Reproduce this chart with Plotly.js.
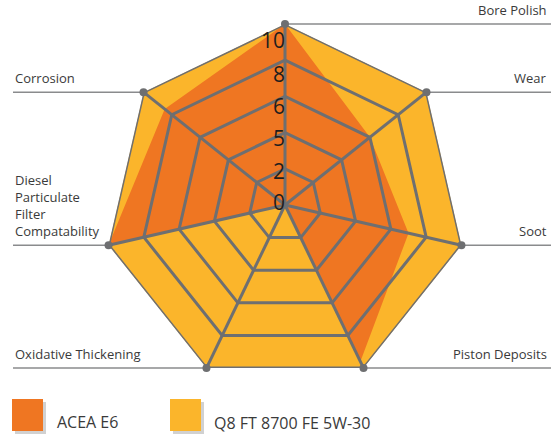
<!DOCTYPE html>
<html><head><meta charset="utf-8">
<script src="https://cdn.plot.ly/plotly-3.0.1.min.js"></script>
<style>html,body{margin:0;padding:0;background:#fff}#chart{width:551px;height:434px}</style>
</head><body><div id="chart"></div>
<script>
// ---- data ----
const categories = ['Bore Polish','Wear','Soot','Piston Deposits','Oxidative Thickening','Diesel Particulate Filter Compatability','Corrosion'];
const categoryLabels = ['Bore Polish','Wear','Soot','Piston Deposits','Oxidative Thickening','Diesel<br>Particulate<br>Filter<br>Compatability','Corrosion'];
const seriesNames = ['ACEA E6','Q8 FT 8700 FE 5W-30'];
const aceaE6 = [10, 6, 7, 9.6, 0, 10, 8.5];
const q8 = [10, 10, 10, 10, 10, 10, 10];
const gridLevels = [2, 4, 6, 8, 10];
const tickText = ['0','2','5','6','8','10'];
const tickTextR = [0.02, 1.75, 3.55, 5.3, 7.1, 8.95];

// ---- styles ----
const W = 551, H = 434;
const cx = 285, cy = 205, R = 181;
const orange = '#EF7622', yellow = '#FBB52B', gridCol = '#6E6F71', textCol = '#3A3A3A';
const font = 'Open Sans, Noto Sans, sans-serif';

const close = a => a.concat([a[0]]);
const thetaC = close(categories);

const traces = [];
traces.push({type:'scatterpolar', r: close(q8), theta: thetaC, fill:'toself', fillcolor: yellow,
  mode:'lines', line:{width:0, color: yellow}, name: seriesNames[1], hoverinfo:'skip'});
traces.push({type:'scatterpolar', r: close(aceaE6), theta: thetaC, fill:'toself', fillcolor: orange,
  mode:'lines', line:{width:0, color: orange}, name: seriesNames[0], hoverinfo:'skip'});
gridLevels.forEach(v => {
  traces.push({type:'scatterpolar', r: close(categories.map(() => v)), theta: thetaC, mode:'lines',
    line:{color: gridCol, width: 3}, hoverinfo:'skip'});
});
categories.forEach(c => {
  traces.push({type:'scatterpolar', r:[0, gridLevels[gridLevels.length-1]], theta:[c, c], mode:'lines',
    line:{color: gridCol, width: 3}, hoverinfo:'skip'});
});
traces.push({type:'scatterpolar', r: categories.map(() => gridLevels[gridLevels.length-1]), theta: categories,
  mode:'markers', marker:{color: gridCol, size: 8}, hoverinfo:'skip', cliponaxis:false});
traces.push({type:'scatterpolar', r: tickTextR, theta: tickTextR.map(() => categories[0]), mode:'text',
  text: tickText, textposition:'middle left', cliponaxis:false,
  textfont:{family: font, size: 21, color:'#1E1E1E'}, hoverinfo:'skip'});

// ---- decorations: leader lines and labels ----
const shapes = [], annotations = [];
const px = x => x / W, py = y => 1 - y / H;
categories.forEach((c, i) => {
  const a = i * 2 * Math.PI / categories.length;
  const vx = cx + R * Math.sin(a), vy = cy - R * Math.cos(a);
  const right = vx > cx + 1 || i === 0;
  const ex = right ? 551 : 13;
  shapes.push({type:'line', xref:'paper', yref:'paper', x0: px(vx), y0: py(vy), x1: px(ex), y1: py(vy),
    line:{color:'#8A8B8D', width: 1.5}, layer:'below'});
  annotations.push({xref:'paper', yref:'paper', x: px(right ? 549 : 13), y: py(vy - 3),
    xanchor: right ? 'right' : 'left', yanchor:'bottom', align:'left', showarrow:false,
    text: categoryLabels[i], font:{family: font, size: 13, color: textCol}});
});
// legend swatches
const legendItems = [{x: 12, col: orange, tx: 55}, {x: 170, col: yellow, tx: 212}];
legendItems.forEach((it, k) => {
  shapes.push({type:'rect', xref:'paper', yref:'paper', x0: px(it.x + 3), x1: px(it.x + 34), y0: py(402), y1: py(434),
    fillcolor:'rgba(0,0,0,0.18)', line:{width:0}});
  shapes.push({type:'rect', xref:'paper', yref:'paper', x0: px(it.x), x1: px(it.x + 31), y0: py(399), y1: py(431),
    fillcolor: it.col, line:{width:0}});
  annotations.push({xref:'paper', yref:'paper', x: px(it.tx), y: py(422 + k), xanchor:'left', yanchor:'middle',
    showarrow:false, text: seriesNames[k], font:{family: font, size: 16, color: textCol}});
});

const layout = {
  width: W, height: H, margin:{l:0, r:0, t:0, b:0}, paper_bgcolor:'#fff', showlegend:false,
  polar: {
    domain:{x:[(cx - R)/W, (cx + R)/W], y:[(H - cy - R)/H, (H - cy + R)/H]},
    bgcolor:'rgba(0,0,0,0)', gridshape:'linear',
    radialaxis:{range:[0, 10], showline:false, showgrid:false, showticklabels:false, ticks:''},
    angularaxis:{type:'category', categoryorder:'array', categoryarray: categories, rotation: 90,
      direction:'clockwise', showline:false, showgrid:false, showticklabels:false, ticks:''}
  },
  shapes: shapes, annotations: annotations
};
Plotly.newPlot('chart', traces, layout, {displayModeBar:false, staticPlot:true});
</script></body></html>
